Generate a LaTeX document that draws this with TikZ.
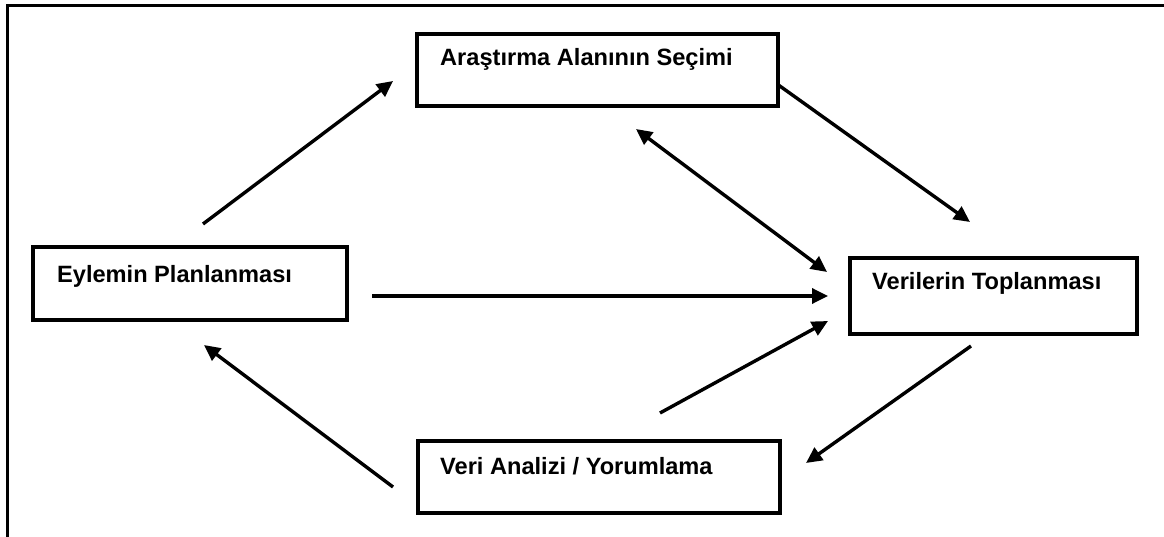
\documentclass[tikz,border=0pt]{standalone}
\usepackage{fontspec}
\setmainfont{Liberation Sans}
\usetikzlibrary{arrows.meta}
\begin{document}
\begin{tikzpicture}[x=1pt,y=-1pt,
  box/.style={draw=black,line width=3.5pt,inner sep=0pt},
  lbl/.style={anchor=base west,inner sep=0pt,font=\fontsize{23.6}{28}\selectfont\bfseries},
  arr/.style={line width=3.4pt,-{Triangle[length=16pt,width=15pt]}},
  darr/.style={line width=3.4pt,{Triangle[length=16pt,width=15pt]}-{Triangle[length=16pt,width=15pt]}}]
\useasboundingbox (0,0) rectangle (1164,537);
% outer frame (top and left only)
\draw[line width=3pt] (1164,5.5) -- (7,5.5) -- (7,537);
% boxes
\node[box,minimum width=361pt,minimum height=72pt] (top) at (597.5,70) {};
\node[lbl] (toptxt) at (440,66) {Araştırma Alanının Seçimi};
\node[box,minimum width=314pt,minimum height=73pt] (left) at (190,283.5) {};
\node[lbl] (lefttxt) at (57,283) {Eylemin Planlanması};
\node[box,minimum width=287pt,minimum height=76pt] (right) at (993.5,296) {};
\node[lbl] (righttxt) at (872,290) {Verilerin Toplanması};
\node[box,minimum width=362pt,minimum height=72pt] (bot) at (599,477) {};
\node[lbl] (bottxt) at (440,474) {Veri Analizi / Yorumlama};
% arrow end points
\coordinate (a1s) at (203,224); \coordinate (a1e) at (393,81);
\coordinate (a2s) at (777,84); \coordinate (a2e) at (970,222);
\coordinate (a3s) at (636,129); \coordinate (a3e) at (827,272);
\coordinate (a4s) at (372,296); \coordinate (a4e) at (828,296);
\coordinate (a5s) at (660,413); \coordinate (a5e) at (828,321);
\coordinate (a6s) at (971,346); \coordinate (a6e) at (806,463);
\coordinate (a7s) at (393,487); \coordinate (a7e) at (204,345);
\draw[arr] (a1s) -- (a1e);
\draw[arr] (a2s) -- (a2e);
\draw[darr] (a3s) -- (a3e);
\draw[arr] (a4s) -- (a4e);
\draw[arr] (a5s) -- (a5e);
\draw[arr] (a6s) -- (a6e);
\draw[arr] (a7s) -- (a7e);
\end{tikzpicture}
\end{document}
